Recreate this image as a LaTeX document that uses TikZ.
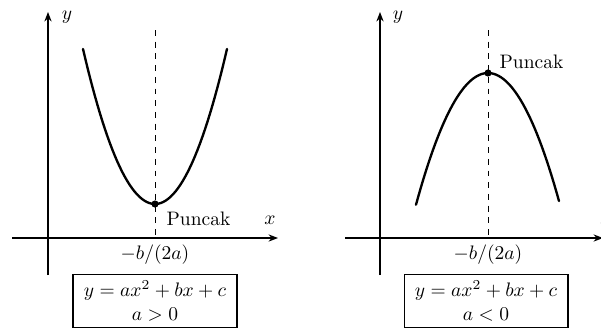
\documentclass[tikz,border=0pt]{standalone}
\usepackage{amsmath}
\usetikzlibrary{arrows.meta,positioning}

\begin{document}
\begin{tikzpicture}[x=0.018cm,y=-0.018cm,
    axis/.style={-{Stealth[length=1.7mm,width=1.3mm]},semithick},
    curve/.style={very thick,line cap=round},
    sym/.style={dashed,thin},
    dot/.style={circle,fill,inner sep=1.3pt},
    eqbox/.style={draw,semithick,align=center,minimum width=2.95cm,minimum height=0.95cm,inner sep=1pt}]
  \useasboundingbox (0,0) rectangle (601,328);
  % left panel: a > 0
  \coordinate (xsL) at (12,238);
  \coordinate (xeL) at (278,238);
  \coordinate (ysL) at (48,275);
  \coordinate (yeL) at (48,12);
  \coordinate (topL) at (155,30);
  \coordinate (footL) at (155,238);
  \draw[axis] (xsL) -- (xeL);
  \draw[axis] (ysL) -- (yeL);
  \node (yL) at (67,17) {$y$};
  \node (xL) at (270,220) {$x$};
  \draw[sym] (topL) -- (footL);
  \draw[curve] plot[domain=-72:72,samples=60] ({155+\x},{204-0.0299*\x*\x});
  \node[dot] (vL) at (155,204) {};
  \node[below right=-1pt and 1pt of vL] (pL) {Puncak};
  \node[below=0pt of footL] (bL) {$-b/(2a)$};
  \node[eqbox] (eqL) at (155,301) {$y=ax^2+bx+c$\\$a>0$};
  % right panel: a < 0
  \coordinate (xsR) at (345,238);
  \coordinate (xeR) at (603,238);
  \coordinate (ysR) at (380,275);
  \coordinate (yeR) at (380,12);
  \coordinate (topR) at (488,30);
  \coordinate (footR) at (488,238);
  \draw[axis] (xsR) -- (xeR);
  \draw[axis] (ysR) -- (yeR);
  \node (yR) at (398,17) {$y$};
  \node (xR) at (606,220) {$x$};
  \draw[sym] (topR) -- (footR);
  \draw[curve] plot[domain=-72:71,samples=60] ({488+\x},{73+0.0254*\x*\x});
  \node[dot] (vR) at (488,73) {};
  \node[above right=-3pt and 1pt of vR] (pR) {Puncak};
  \node[below=0pt of footR] (bR) {$-b/(2a)$};
  \node[eqbox] (eqR) at (486,301) {$y=ax^2+bx+c$\\$a<0$};
\end{tikzpicture}
\end{document}
